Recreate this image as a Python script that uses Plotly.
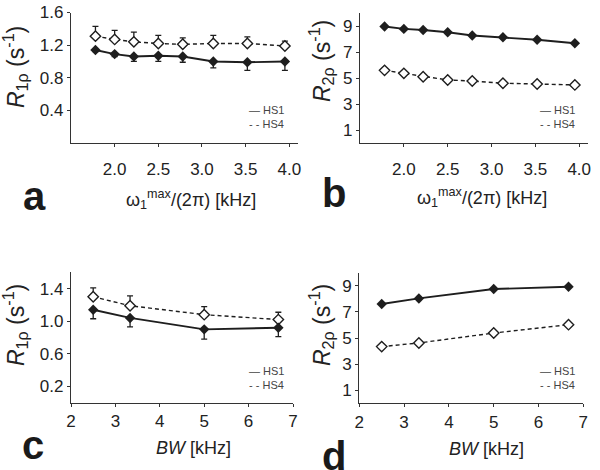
import plotly.graph_objects as go

# ---------------- data ----------------
omega = [1.78, 2.0, 2.22, 2.5, 2.78, 3.13, 3.52, 3.95]
bw = [2.5, 3.33, 5.0, 6.67]

a_hs1 = [1.14, 1.09, 1.06, 1.07, 1.06, 1.00, 0.99, 1.00]
a_hs1_err = [0.02, 0.03, 0.06, 0.07, 0.07, 0.08, 0.10, 0.11]
a_hs4 = [1.31, 1.27, 1.24, 1.22, 1.21, 1.22, 1.22, 1.19]
a_hs4_err = [0.12, 0.11, 0.12, 0.10, 0.08, 0.10, 0.08, 0.06]

b_hs1 = [8.98, 8.80, 8.72, 8.54, 8.29, 8.16, 7.96, 7.70]
b_hs4 = [5.61, 5.38, 5.12, 4.87, 4.79, 4.62, 4.56, 4.49]

c_hs1 = [1.14, 1.04, 0.90, 0.92]
c_hs1_err = [0.11, 0.11, 0.12, 0.11]
c_hs4 = [1.30, 1.19, 1.08, 1.02]
c_hs4_err = [0.11, 0.12, 0.10, 0.09]

d_hs1 = [7.60, 8.03, 8.75, 8.92]
d_hs4 = [4.34, 4.62, 5.38, 6.02]

omega_ticks = [2.0, 2.5, 3.0, 3.5, 4.0]
bw_ticks = [2, 3, 4, 5, 6, 7]
r1_ticks_a = [0.4, 0.8, 1.2, 1.6]
r1_ticks_c = [0.2, 0.6, 1.0, 1.4]
r2_ticks = [1, 3, 5, 7, 9]

# ---------------- style ----------------
W, H = 600, 470
DARK = "#1e1e1e"
FONT = "Liberation Sans, Arial, sans-serif"


def dx(p0, p1):
    return [p0 / W, p1 / W]


def dy(top, bot):
    return [1 - bot / H, 1 - top / H]


fig = go.Figure()


def add_pair(xv, y1, y4, xa, ya, e1=None, e4=None):
    t1 = dict(x=xv, y=y1, mode="lines+markers", xaxis=xa, yaxis=ya,
              line=dict(color=DARK, width=1.9),
              marker=dict(symbol="diamond", size=8, color=DARK),
              showlegend=False)
    if e1 is not None:
        t1["error_y"] = dict(type="data", array=[0] * len(e1), arrayminus=e1,
                             symmetric=False, color=DARK, thickness=1.3, width=3)
    t4 = dict(x=xv, y=y4, mode="lines+markers", xaxis=xa, yaxis=ya,
              line=dict(color=DARK, width=1.4, dash="4px,3px"),
              marker=dict(symbol="diamond", size=8, color="white",
                          line=dict(color=DARK, width=1.4)),
              showlegend=False)
    if e4 is not None:
        t4["error_y"] = dict(type="data", array=e4, arrayminus=[0] * len(e4),
                             symmetric=False, color=DARK, thickness=1.3, width=3)
    fig.add_trace(go.Scatter(**t4))
    fig.add_trace(go.Scatter(**t1))


add_pair(omega, a_hs1, a_hs4, "x", "y", a_hs1_err, a_hs4_err)
add_pair(omega, b_hs1, b_hs4, "x2", "y2")
add_pair(bw, c_hs1, c_hs4, "x3", "y3", c_hs1_err, c_hs4_err)
add_pair(bw, d_hs1, d_hs4, "x4", "y4")

axis_common = dict(showline=True, linecolor="#333", linewidth=1.2,
                   ticks="outside", ticklen=3, tickcolor="#333",
                   showgrid=False, zeroline=False, automargin=False,
                   ticklabeloverflow="allow",
                   tickfont=dict(family=FONT, size=17, color="#222"))

layout = dict(
    width=W, height=H, margin=dict(l=0, r=0, t=0, b=0),
    paper_bgcolor="white", plot_bgcolor="white", showlegend=False,
    font=dict(family=FONT, color="#222"),
    xaxis=dict(domain=dx(71, 298), range=[1.5, 4.1], tickvals=omega_ticks,
               tickformat=".1f", anchor="y", ticklabelstandoff=7, **axis_common),
    yaxis=dict(domain=dy(12.5, 143), range=[0, 1.6], tickvals=r1_ticks_a,
               tickformat=".1f", anchor="x", **axis_common),
    xaxis2=dict(domain=dx(360, 588), range=[1.5, 4.1], tickvals=omega_ticks,
                tickformat=".1f", anchor="y2", ticklabelstandoff=7, **axis_common),
    yaxis2=dict(domain=dy(13.3, 143.3), range=[0, 10], tickvals=r2_ticks,
                anchor="x2", **axis_common),
    xaxis3=dict(domain=dx(71, 293), range=[2, 7], tickvals=bw_ticks,
                anchor="y3", ticklabelstandoff=0, **axis_common),
    yaxis3=dict(domain=dy(272.3, 402.7), range=[0, 1.6], tickvals=r1_ticks_c,
                tickformat=".1f", anchor="x3", **axis_common),
    xaxis4=dict(domain=dx(359.3, 583.3), range=[2, 7], tickvals=bw_ticks,
                anchor="y4", ticklabelstandoff=0, **axis_common),
    yaxis4=dict(domain=dy(272.7, 403.3), range=[0, 10], tickvals=r2_ticks,
                anchor="x4", **axis_common),
)
fig.update_layout(**layout)

ann = []


def txt(x, y, text, size, xanchor="center", color="#222", **kw):
    d = dict(x=x / W, y=1 - y / H, xref="paper", yref="paper",
             text=text, showarrow=False, xanchor=xanchor, yanchor="middle",
             font=dict(family=FONT, size=size, color=color))
    d.update(kw)
    ann.append(d)


# panel letters
for (lx, ly, s) in [(34, 196, "a"), (334, 193, "b"), (33, 445, "c"), (334, 456, "d")]:
    txt(lx, ly, "<b>%s</b>" % s, 40, color="#1a1a1a")

# x-axis titles
omega_title = "ω<sub>1</sub><sup>max</sup>/(2π) [kHz]"
bw_title = "<i>BW</i> [kHz]"
txt(191, 199, omega_title, 18)
txt(482, 197, omega_title, 18)
txt(194, 448, bw_title, 18)
txt(486, 449, bw_title, 18)

# y-axis titles
r1_title = "<i>R</i><sub>1ρ</sub> (s<sup>-1</sup>)"
r2_title = "<i>R</i><sub>2ρ</sub> (s<sup>-1</sup>)"
txt(15, 67, r1_title, 23, textangle=-90)
txt(321, 61, r2_title, 23, textangle=-90)
txt(15, 325, r1_title, 23, textangle=-90)
txt(321, 325, r2_title, 23, textangle=-90)

# in-plot legends
for (lx, ly) in [(247, 110), (538, 110), (247, 371), (538, 371)]:
    txt(lx, ly, "— HS1", 11, color="#444", xanchor="left")
    txt(lx, ly + 14, "- - HS4", 11, color="#444", xanchor="left")

fig.update_layout(annotations=ann)
fig.write_html("out.html",
               config={"displayModeBar": False},
               post_script="document.body.style.margin='0';")
